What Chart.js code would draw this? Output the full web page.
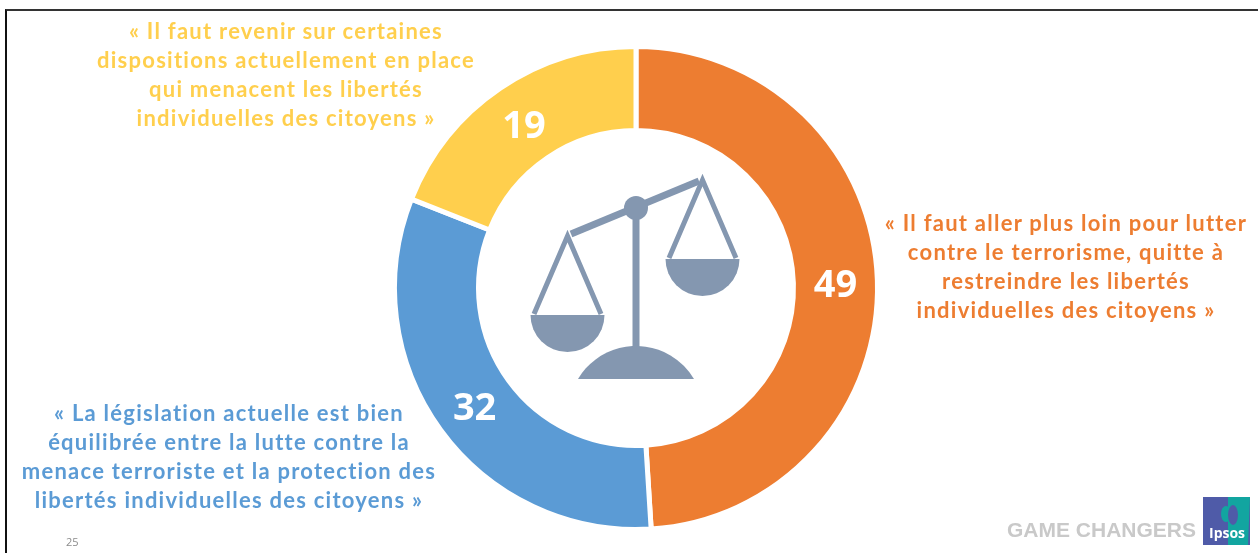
<!DOCTYPE html>
<html>
<head>
<meta charset="utf-8">
<script src="https://cdn.jsdelivr.net/npm/chart.js@4"></script>
<style>
  html, body { margin: 0; padding: 0; background: #fff; overflow: hidden; }
  #wrap { position: relative; width: 1258px; height: 553px; }
  #frame { position: absolute; left: 5px; top: 9px; right: 0; bottom: -5px; border-left: 2px solid #111; border-top: 2px solid #333; }
  .quote { position: absolute; font: bold 22px Lato, sans-serif; letter-spacing: 1.25px; line-height: 29px; text-align: center; white-space: pre; transform: translateX(-50%); }
</style>
</head>
<body>
<div id="wrap">
  <div id="frame"></div>
  <canvas id="c" width="1258" height="553"></canvas>
</div>
<script>
const categories = ['Aller plus loin', 'Bien équilibrée', 'Revenir sur certaines dispositions'];
const values = [49, 32, 19];
const colors = ['#ED7D31', '#5B9BD5', '#FFCF4D'];
const quotes = [
  '« Il faut aller plus loin pour lutter\ncontre le terrorisme, quitte à\nrestreindre les libertés\nindividuelles des citoyens »',
  '« La législation actuelle est bien\néquilibrée entre la lutte contre la\nmenace terroriste et la protection des\nlibertés individuelles des citoyens »',
  '« Il faut revenir sur certaines\ndispositions actuellement en place\nqui menacent les libertés\nindividuelles des citoyens »'
];
const quotePos = [[1066, 208], [229, 398], [286, 16]];

// caption blocks sit outside the canvas text flow
quotes.forEach((q, i) => {
  const d = document.createElement('div');
  d.className = 'quote';
  d.textContent = q;
  d.style.left = quotePos[i][0] + 'px';
  d.style.top = quotePos[i][1] + 'px';
  d.style.color = colors[i];
  document.getElementById('wrap').appendChild(d);
});

const sliceLabels = {
  id: 'sliceLabels',
  afterDatasetsDraw(chart) {
    const { ctx } = chart;
    ctx.save();
    ctx.font = 'bold 38px "Open Sans", sans-serif';
    ctx.fillStyle = '#fff';
    ctx.textAlign = 'center';
    ctx.textBaseline = 'middle';
    chart.getDatasetMeta(0).data.forEach((arc, i) => {
      const p = arc.tooltipPosition();
      ctx.fillText(values[i], p.x, p.y + 4);
    });
    ctx.restore();
  }
};

// balance icon in the hole, plus the footer bits
const decor = {
  id: 'decor',
  afterDraw(chart) {
    const { ctx } = chart;
    const slate = '#8497B0';
    ctx.save();
    ctx.strokeStyle = slate;
    ctx.fillStyle = slate;
    ctx.lineWidth = 7;
    ctx.beginPath(); ctx.moveTo(636, 208); ctx.lineTo(636, 350); ctx.stroke();
    ctx.beginPath(); ctx.moveTo(571, 234); ctx.lineTo(699, 181); ctx.stroke();
    ctx.beginPath(); ctx.arc(636, 208, 12, 0, Math.PI * 2); ctx.fill();
    ctx.lineWidth = 5;
    ctx.beginPath(); ctx.moveTo(534, 314); ctx.lineTo(567.5, 236); ctx.lineTo(601, 314); ctx.stroke();
    ctx.beginPath(); ctx.moveTo(669, 258); ctx.lineTo(702.5, 180); ctx.lineTo(736, 258); ctx.stroke();
    ctx.beginPath(); ctx.arc(567.5, 315, 37, 0, Math.PI); ctx.closePath(); ctx.fill();
    ctx.beginPath(); ctx.arc(702.5, 259, 37, 0, Math.PI); ctx.closePath(); ctx.fill();
    ctx.beginPath();
    ctx.arc(636, 413.5, 67.5, Math.PI + Math.asin(34.5 / 67.5), -Math.asin(34.5 / 67.5));
    ctx.closePath(); ctx.fill();

    ctx.font = '11px "Open Sans", sans-serif';
    ctx.fillStyle = '#8c8c8c';
    ctx.fillText('25', 66, 546);

    ctx.font = 'bold 21px "Liberation Sans", sans-serif';
    ctx.fillStyle = '#c9c9c9';
    ctx.fillText('GAME CHANGERS', 1007, 537);

    // Ipsos logo
    ctx.fillStyle = '#4F5BA8';
    ctx.fillRect(1203, 497, 47, 48);
    ctx.fillStyle = '#12A5A0';
    ctx.beginPath();
    ctx.moveTo(1228, 497); ctx.lineTo(1250, 497); ctx.lineTo(1248, 545); ctx.lineTo(1228, 545);
    ctx.closePath(); ctx.fill();
    ctx.beginPath(); ctx.ellipse(1226, 514, 5, 8, 0, 0, Math.PI * 2); ctx.fill();
    ctx.fillStyle = '#4F5BA8';
    ctx.beginPath(); ctx.ellipse(1233, 515, 5, 10, 0, 0, Math.PI * 2); ctx.fill();
    ctx.font = 'bold 14px "Open Sans", sans-serif';
    ctx.fillStyle = '#fff';
    ctx.fillText('Ipsos', 1209, 538);
    ctx.restore();
  }
};

new Chart(document.getElementById('c'), {
  type: 'doughnut',
  data: {
    labels: categories,
    datasets: [{ data: values, backgroundColor: colors, borderColor: '#fff', borderWidth: 5 }]
  },
  options: {
    responsive: false,
    animation: false,
    cutout: '65.2%',
    layout: { padding: { left: 392, right: 378, top: 44, bottom: 21 } },
    plugins: { legend: { display: false }, tooltip: { enabled: false } }
  },
  plugins: [sliceLabels, decor]
});
</script>
</body>
</html>
